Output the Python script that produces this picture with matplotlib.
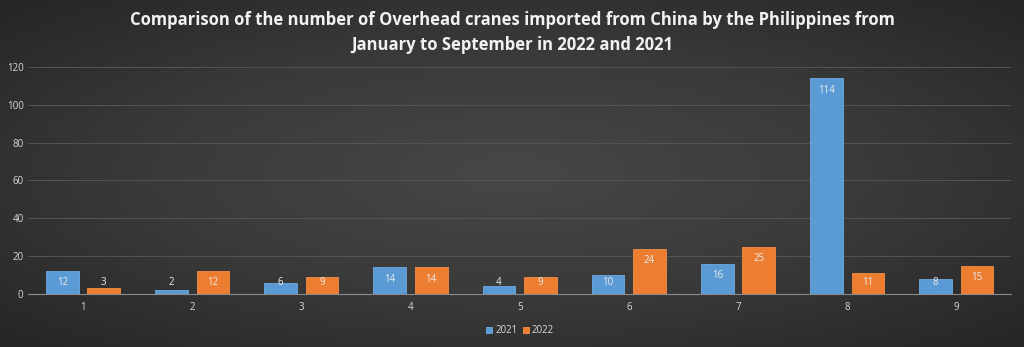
import numpy as np
import matplotlib.pyplot as plt
from matplotlib.colors import LinearSegmentedColormap

months = [1, 2, 3, 4, 5, 6, 7, 8, 9]
v2021 = [12, 2, 6, 14, 4, 10, 16, 114, 8]
v2022 = [3, 12, 9, 14, 9, 24, 25, 11, 15]
title = ("Comparison of the number of Overhead cranes imported from China by the Philippines from\n"
         "January to September in 2022 and 2021")

plt.rcParams['font.family'] = ['Open Sans', 'DejaVu Sans']

fig = plt.figure(figsize=(10.24, 3.47), dpi=100)

# dark radial background
bg = fig.add_axes([0, 0, 1, 1], zorder=-10)
yy, xx = np.mgrid[-1:1:200j, -1:1:400j]
r = np.sqrt(xx ** 2 + yy ** 2)
cm = LinearSegmentedColormap.from_list('bg', ['#474747', '#3a3a3a', '#262626'])
bg.imshow(r, cmap=cm, vmin=0, vmax=1.4, aspect='auto', extent=[0, 1, 0, 1])
bg.axis('off')

ax = fig.add_axes([0.0278, 0.153, 0.9594, 0.654])
ax.patch.set_alpha(0)
x = np.arange(len(months))
w = 0.30
b1 = ax.bar(x - 0.19, v2021, w, color='#5b9bd5', edgecolor='#6fabe0', lw=0.6,
            label='2021', zorder=3)
b2 = ax.bar(x + 0.19, v2022, w, color='#ed7d31', edgecolor='#f58d45', lw=0.6,
            label='2022', zorder=3)

for bars, vals in ((b1, v2021), (b2, v2022)):
    for b, v in zip(bars, vals):
        ax.text(b.get_x() + b.get_width() / 2, max(v - 6.5, 5.8), str(v), ha='center',
                va='center', fontsize=7, color='#ececec', zorder=4)

ax.set_xlim(-0.5, len(months) - 0.5)
ax.set_ylim(0, 120)
ax.set_yticks(range(0, 121, 20))
ax.set_xticks(x)
ax.set_xticklabels(months)
ax.tick_params(colors='#d9d9d9', labelsize=7, length=0)
ax.tick_params(axis='x', pad=6)
ax.grid(axis='y', color='#545454', lw=0.7, zorder=0)
for s in ['top', 'right', 'left']:
    ax.spines[s].set_visible(False)
ax.spines['bottom'].set_color('#8c8c8c')

fig.text(0.5, 0.905, title, ha='center', va='center', fontsize=12, fontweight='bold',
         color='#f2f2f2', linespacing=1.5)

leg = fig.legend(loc='center', bbox_to_anchor=(0.508, 0.047), ncol=2, frameon=False,
                 fontsize=7, labelcolor='#d9d9d9', handlelength=0.6, handleheight=0.6,
                 columnspacing=0.6, handletextpad=0.3)

fig.savefig('out.png', dpi=100)
